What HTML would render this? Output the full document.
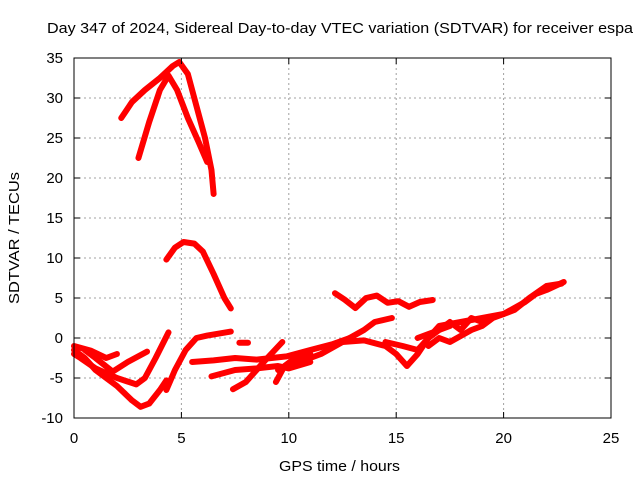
<!DOCTYPE html>
<html><head><meta charset="utf-8"><style>
body{margin:0;background:#fff;}
svg{display:block;font-family:"Liberation Sans",sans-serif;}
</style></head><body>
<svg id="chart" width="640" height="480" viewBox="0 0 640 480">
<rect width="640" height="480" fill="#fff"/>
<text x="47" y="33" font-size="15" textLength="586" lengthAdjust="spacingAndGlyphs">Day 347 of 2024, Sidereal Day-to-day VTEC variation (SDTVAR) for receiver espa</text>
<g id="grid"></g>
<g id="series"></g>
<rect x="74" y="58" width="537" height="360" fill="none" stroke="#000" stroke-width="1"/>
<g id="ticks"></g>
<text x="279" y="471" font-size="15" textLength="121" lengthAdjust="spacingAndGlyphs">GPS time / hours</text>
<text transform="translate(19,304) rotate(-90)" font-size="15" textLength="132" lengthAdjust="spacingAndGlyphs">SDTVAR / TECUs</text>
</svg>
<script>
const xTicks=[0,5,10,15,20,25];
const yTicks=[-10,-5,0,5,10,15,20,25,30,35];
const s1=[[2.2,27.5],[2.7,29.5],[3.3,31],[4,32.5],[4.6,34],[4.9,34.5],[5.3,33],[5.7,29],[6.1,25],[6.4,21],[6.5,18]];
const s2=[[3,22.5],[3.5,27],[4,31],[4.4,32.8],[4.8,31],[5.3,27.5],[5.8,24.5],[6.2,22]];
const s3=[[4.3,9.8],[4.7,11.3],[5.1,12],[5.6,11.8],[6,10.8],[6.5,8],[7,5],[7.3,3.7]];
const s4=[[12.15,5.6],[12.6,4.8],[13.1,3.75],[13.6,5],[14.1,5.3],[14.6,4.4],[15.1,4.6],[15.6,3.9],[16.1,4.5],[16.7,4.75]];
const s5=[[9.5,-4],[10.5,-3],[11.5,-2],[12.5,-0.5],[13.5,1],[14,2],[14.8,2.5]];
const s6=[[12.5,-0.5],[13.5,-0.3],[14.5,-1],[15,-2],[15.5,-3.5],[16,-2],[16.5,0],[17,1],[17.5,1.5]];
const s7=[[14.5,-0.5],[15.3,-1],[16,-1.5],[16.5,0],[17,1.5],[18,2],[19,2.5],[20,3],[21,4.5],[21.5,5.5],[22,6],[22.8,7]];
const s8=[[16,0],[17,1],[17.5,2],[18,1],[18.5,2.5],[19,2]];
const s9=[[16.5,-1],[17,0],[17.5,-0.5],[18.5,1],[19,1.5],[19.5,2.5],[20.5,3.5],[21.2,5],[22,6.5],[22.7,6.8]];
const s10=[[0,-1.5],[0.5,-2.5],[1,-4],[2,-6],[2.7,-7.8],[3.1,-8.6],[3.5,-8.2],[4,-6.5],[4.3,-5.3]];
const s11=[[0,-2],[0.3,-2.5],[1,-3.8],[2,-5],[2.9,-5.8],[3.3,-5],[3.8,-2.5],[4.4,0.7]];
const s12=[[0.5,-1.5],[1,-2.5],[1.8,-4.2],[2.5,-3],[3.4,-1.7]];
const s13=[[4.3,-6.5],[4.7,-4],[5.2,-1.5],[5.7,0],[6.2,0.3],[7.3,0.8]];
const s14=[[5.5,-3],[6.5,-2.8],[7.5,-2.5],[8.5,-2.7],[9.9,-2.3],[11,-1.5],[12,-0.8],[12.85,0]];
const s15=[[6.4,-4.8],[7.5,-4],[8.5,-3.8],[9.5,-3.5],[10,-3.8],[11,-3]];
const s16=[[7.4,-6.4],[8,-5.5],[8.5,-4],[9,-2.5],[9.7,-0.5]];
const s17=[[9.4,-5.5],[9.8,-3.5],[10.3,-2.5],[11,-2]];
const s18=[[7.7,-0.6],[8.1,-0.6]];
const s19=[[0,-1],[0.8,-1.6],[1.5,-2.5],[2,-2]];
const allSeries=[s1,s2,s3,s4,s5,s6,s7,s8,s9,s10,s11,s12,s13,s14,s15,s16,s17,s18,s19];
const X0=74,X1=611,Y0=418,Y1=58;
const xs=v=>X0+(v-0)/25*(X1-X0);
const ys=v=>Y0-(v+10)/45*(Y0-Y1);
const NS="http://www.w3.org/2000/svg";
const grid=document.getElementById('grid'),ticks=document.getElementById('ticks'),ser=document.getElementById('series');
function mk(tag,attrs,parent){const e=document.createElementNS(NS,tag);for(const k in attrs)e.setAttribute(k,attrs[k]);parent.appendChild(e);return e;}
xTicks.forEach(t=>{const x=xs(t);
 if(t>0&&t<25){const g=mk('line',{x1:x,x2:x,y1:Y1,y2:Y0,stroke:'#a0a0a0','stroke-dasharray':'2,3'},grid);
 
 }
 mk('line',{x1:x,x2:x,y1:Y0,y2:Y0-6,stroke:'#000'},ticks);mk('line',{x1:x,x2:x,y1:Y1,y2:Y1+6,stroke:'#000'},ticks);
 const l=mk('text',{x:x,y:443,'font-size':15,'text-anchor':'middle'},ticks);l.textContent=t;
 
 });
yTicks.forEach(t=>{const y=ys(t);
 if(t>-10&&t<35){const g=mk('line',{x1:X0,x2:X1,y1:y,y2:y,stroke:'#a0a0a0','stroke-dasharray':'2,3'},grid);
 
 }
 mk('line',{x1:X0,x2:X0+6,y1:y,y2:y,stroke:'#000'},ticks);mk('line',{x1:X1,x2:X1-6,y1:y,y2:y,stroke:'#000'},ticks);
 const l=mk('text',{x:63,y:y+5,'font-size':15,'text-anchor':'end'},ticks);l.textContent=t;
 
 });
allSeries.forEach((s,i)=>{
 const p=mk('polyline',{points:s.map(d=>xs(d[0])+','+ys(d[1])).join(' '),fill:'none',stroke:'#ff0000','stroke-width':6,'stroke-linejoin':'round','stroke-linecap':'round'},ser);
 
 
});
</script>
</body></html>
